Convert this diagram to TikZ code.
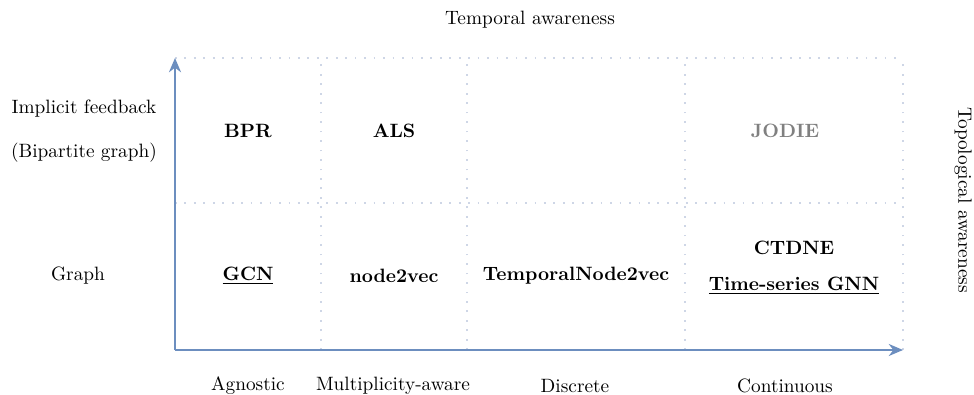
\documentclass[tikz,border=0pt]{standalone}
\usepackage{tikz}
\usetikzlibrary{arrows.meta}
\definecolor{axisblue}{RGB}{108,142,191}
\definecolor{gridgray}{RGB}{206,214,230}

\begin{document}
\begin{tikzpicture}[x=0.0182cm,y=0.0182cm,
  method/.style={font=\bfseries},
  gridline/.style={gridgray,line width=0.9pt,dash pattern=on 0.9pt off 4pt}]
\useasboundingbox (-175,-44) rectangle (799,350);
% dotted quadrant grid
\draw[gridline] (0,292) -- (728,292);
\draw[gridline] (0,147) -- (728,147);
\foreach \gx in {146,292,510,728}
  \draw[gridline] (\gx,0) -- (\gx,292);
% axes
\coordinate (O) at (0,0);
\coordinate (xtip) at (728,0);
\coordinate (ytip) at (0,292);
\draw[axisblue,line width=1pt,-{Stealth[length=2.6mm,width=2.2mm]}] (O) -- (xtip);
\draw[axisblue,line width=1pt,-{Stealth[length=2.6mm,width=2.2mm]}] (O) -- (ytip);
% axis titles
\node (temporal) at (355,330) {Temporal awareness};
\node[rotate=-90] (topo) at (788,150) {Topological awareness};
% row labels
\node (implicit) at (-91,241) {Implicit feedback};
\node (bipartite) at (-91,197) {(Bipartite graph)};
\node (graph) at (-97,74) {Graph};
% column labels
\node (agnostic) at (73,-36) {Agnostic};
\node (multi) at (218,-36) {Multiplicity-aware};
\node (discrete) at (400,-36) {Discrete};
\node (continuous) at (610,-36) {Continuous};
% methods
\node[method] (bpr) at (73,219) {BPR};
\node[method] (als) at (219,219) {ALS};
\node[method,gray] (jodie) at (610,219) {JODIE};
\node[method] (gcn) at (73,74) {\underline{GCN}};
\node[method] (n2v) at (219,74) {node2vec};
\node[method] (tn2v) at (401,74) {TemporalNode2vec};
\node[method] (ctdne) at (619,102) {CTDNE};
\node[method] (tsgnn) at (619,64) {\underline{Time-series GNN}};
\end{tikzpicture}
\end{document}
